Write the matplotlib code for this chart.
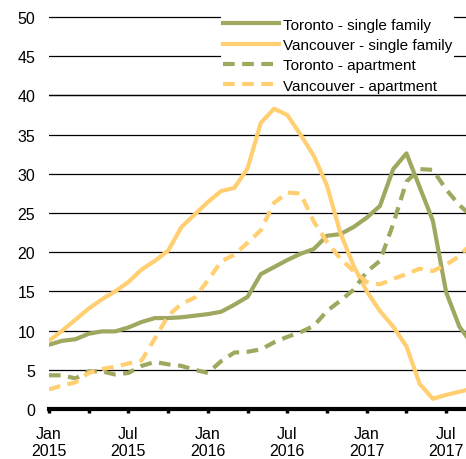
import numpy as np
import matplotlib
matplotlib.use("Agg")
from matplotlib import pyplot as plt

plt.rcParams['font.family'] = ['Liberation Sans', 'DejaVu Sans']

# monthly values, Jan 2015 .. Sep 2017 (last one runs off the right edge)
toronto_single = [8.2, 8.7, 8.9, 9.6, 9.9, 9.9, 10.4, 11.1, 11.6, 11.6, 11.7, 11.9,
                  12.1, 12.4, 13.3, 14.3, 17.2, 18.1, 19.0, 19.8, 20.4, 22.1, 22.3, 23.2,
                  24.4, 25.9, 30.6, 32.6, 28.3, 24.0, 14.9, 10.5, 8.2]
vancouver_single = [8.7, 10.0, 11.4, 12.8, 14.0, 15.0, 16.2, 17.8, 18.9, 20.2, 23.2, 24.8,
                    26.4, 27.8, 28.2, 30.7, 36.5, 38.3, 37.5, 35.0, 32.3, 28.5, 22.5, 18.3,
                    15.0, 12.5, 10.5, 8.0, 3.2, 1.3, 1.8, 2.2, 2.6]
toronto_apt = [4.3, 4.3, 3.9, 4.8, 4.8, 4.4, 4.6, 5.5, 6.0, 5.7, 5.5, 5.0,
               4.6, 6.1, 7.2, 7.3, 7.6, 8.5, 9.2, 9.8, 10.6, 12.5, 13.8, 15.2,
               17.5, 18.9, 23.6, 29.0, 30.6, 30.5, 28.0, 26.0, 24.5]
vancouver_apt = [2.5, 3.0, 3.4, 4.6, 5.1, 5.4, 5.8, 6.2, 9.0, 11.9, 13.4, 14.2,
                 16.4, 18.8, 19.7, 21.2, 22.8, 26.3, 27.6, 27.5, 23.9, 21.3, 19.2, 17.6,
                 16.2, 15.9, 16.6, 17.2, 17.9, 17.6, 18.4, 19.5, 21.3]

labels = ["Toronto - single family", "Vancouver - single family",
          "Toronto - apartment", "Vancouver - apartment"]
tick_labels = ["Jan\n2015", "Jul\n2015", "Jan\n2016", "Jul\n2016", "Jan\n2017", "Jul\n2017"]

green = "#A0A75E"
orange = "#FFCF72"

months = np.arange(len(toronto_single))

fig = plt.figure(figsize=(4.66, 4.6), dpi=100)
ax = fig.add_axes([49/466, 50/460, 417/466, 51*7.84/460])

lw = 3
ax.plot(months, toronto_single, color=green, lw=lw, label=labels[0], solid_joinstyle='round')
ax.plot(months, vancouver_single, color=orange, lw=lw, label=labels[1], solid_joinstyle='round')
ax.plot(months, toronto_apt, color=green, lw=lw, label=labels[2], dashes=(2.8, 1.8))
ax.plot(months, vancouver_apt, color=orange, lw=lw, label=labels[3], dashes=(2.8, 1.8))

ax.set_xlim(0, 31.5)
ax.set_ylim(0, 51)

ax.set_yticks(np.arange(0, 55, 5))
ax.yaxis.grid(True, color='black', lw=0.9)
ax.set_axisbelow(True)
ax.tick_params(axis='y', length=0, pad=10, labelsize=11.5, colors='black')

ax.set_xticks(np.arange(0, 31, 6))
ax.set_xticks(np.arange(3, 31, 6), minor=True)
ax.set_xticklabels(tick_labels)
ax.tick_params(axis='x', which='both', length=3, width=2.5, direction='out',
               pad=9, labelsize=11.5, colors='black')

for s in ['top', 'right', 'left']:
    ax.spines[s].set_visible(False)
ax.spines['bottom'].set_linewidth(3)
ax.spines['bottom'].set_color('black')

leg = ax.legend(loc='upper left', bbox_to_anchor=(221/466, 1 - 17/460),
                bbox_transform=fig.transFigure, fontsize=11, frameon=True,
                fancybox=False, borderpad=0.1, borderaxespad=0,
                handlelength=3.7, handletextpad=0.25, labelspacing=0.42)
leg.get_frame().set_facecolor('white')
leg.get_frame().set_edgecolor('none')
leg.get_frame().set_alpha(1)

# the 40 gridline stays visible below the legend box
ax.axhline(40, color='black', lw=0.9, zorder=6)

fig.savefig("out.png", dpi=100)
